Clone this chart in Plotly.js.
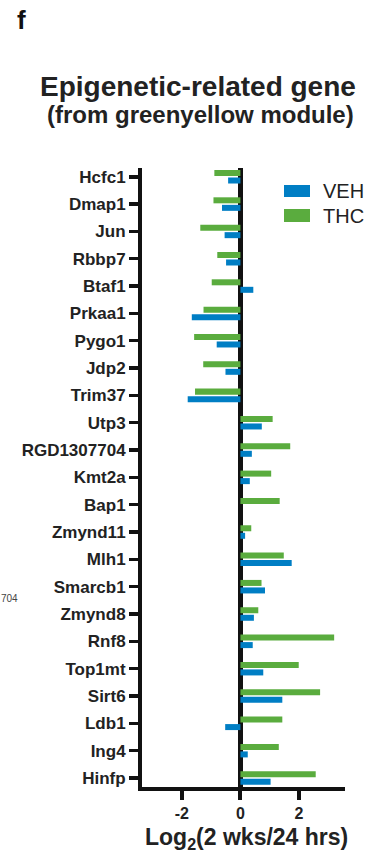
<!DOCTYPE html>
<html>
<head>
<meta charset="utf-8">
<script src="https://cdn.plot.ly/plotly-3.0.1.min.js"></script>
<style>html,body{margin:0;padding:0;background:#fff;}#chart{width:371px;height:853px;}</style>
</head>
<body>
<div id="chart"></div>
<script>
// ---- data ----
const genes = ["Hcfc1","Dmap1","Jun","Rbbp7","Btaf1","Prkaa1","Pygo1","Jdp2","Trim37","Utp3",
  "RGD1307704","Kmt2a","Bap1","Zmynd11","Mlh1","Smarcb1","Zmynd8","Rnf8","Top1mt","Sirt6",
  "Ldb1","Ing4","Hinfp"];
const thc = [-0.89,-0.92,-1.37,-0.79,-0.98,-1.26,-1.58,-1.27,-1.55,1.10,
  1.70,1.05,1.34,0.37,1.48,0.72,0.61,3.20,1.99,2.72,
  1.43,1.31,2.57];
const veh = [-0.42,-0.63,-0.54,-0.49,0.44,-1.66,-0.81,-0.51,-1.80,0.73,
  0.39,0.32,0,0.16,1.75,0.84,0.46,0.42,0.78,1.43,
  -0.52,0.25,1.03];
const xTicks = [-2, 0, 2];
const seriesNames = ["VEH", "THC"];
const xTitle = "Log<sub>2</sub>(2 wks/24 hrs)";

// ---- style ----
const BLUE = "rgb(0,126,196)";
const GREEN = "rgb(90,172,62)";
const FONT = "Liberation Sans, Arial, Helvetica, sans-serif";
const W = 371, H = 853;
const M = {l: 142, r: 26, t: 168, b: 66};
const PW = W - M.l - M.r, PH = H - M.t - M.b;
const px = x => (x - M.l) / PW;         // pixel x -> paper
const py = y => (H - M.b - y) / PH;     // pixel y -> paper

const traces = [
  {type: "bar", orientation: "h", name: seriesNames[1], y: genes, x: thc,
   marker: {color: GREEN, line: {width: 0}}, showlegend: false},
  {type: "bar", orientation: "h", name: seriesNames[0], y: genes, x: veh,
   marker: {color: BLUE, line: {width: 0}}, showlegend: false}
];

const layout = {
  width: W, height: H,
  margin: M,
  paper_bgcolor: "#fff", plot_bgcolor: "#fff",
  font: {family: FONT, color: "#222"},
  barmode: "group", bargap: 0.45, bargroupgap: 0.2,
  xaxis: {
    range: [-3.36, 3.57], tickvals: xTicks, ticktext: xTicks.map(String),
    showgrid: false, zeroline: true, zerolinecolor: "#111", zerolinewidth: 5,
    showline: true, linecolor: "#111", linewidth: 4,
    ticks: "outside", ticklen: 9, tickwidth: 4, tickcolor: "#111",
    tickfont: {family: FONT, size: 16, weight: 700, color: "#222"}
  },
  yaxis: {
    type: "category", range: [22.33, -0.32], autorange: false,
    showgrid: false, zeroline: false,
    showline: true, linecolor: "#111", linewidth: 4,
    ticks: "outside", ticklen: 9, tickwidth: 3.5, tickcolor: "#111",
    tickfont: {family: FONT, size: 17, weight: 700, color: "#222"}
  },
  shapes: [
    {type: "rect", xref: "paper", yref: "paper", x0: px(284), x1: px(310), y0: py(197), y1: py(185),
     fillcolor: BLUE, line: {width: 0}},
    {type: "rect", xref: "paper", yref: "paper", x0: px(284), x1: px(310), y0: py(222), y1: py(209),
     fillcolor: GREEN, line: {width: 0}}
  ],
  annotations: [
    {xref: "paper", yref: "paper", x: px(321), y: py(191), xanchor: "left", yanchor: "middle",
     text: seriesNames[0], showarrow: false, font: {family: FONT, size: 20, color: "#222"}},
    {xref: "paper", yref: "paper", x: px(321), y: py(216), xanchor: "left", yanchor: "middle",
     text: seriesNames[1], showarrow: false, font: {family: FONT, size: 20, color: "#222"}},
    {xref: "paper", yref: "paper", x: px(197.5), y: py(86), xanchor: "center", yanchor: "middle",
     text: "Epigenetic-related gene", showarrow: false, font: {family: FONT, size: 28, weight: 700, color: "#222"}},
    {xref: "paper", yref: "paper", x: px(200.5), y: py(114.5), xanchor: "center", yanchor: "middle",
     text: "(from greenyellow module)", showarrow: false, font: {family: FONT, size: 24, weight: 700, color: "#222"}},
    {xref: "paper", yref: "paper", x: px(15), y: py(20), xanchor: "left", yanchor: "middle",
     text: "f", showarrow: false, font: {family: FONT, size: 26, weight: 700, color: "#111"}},
    {xref: "paper", yref: "paper", x: px(-1), y: py(598), xanchor: "left", yanchor: "middle",
     text: "704", showarrow: false, font: {family: FONT, size: 10, color: "#444"}},
    {xref: "paper", yref: "paper", x: px(246.5), y: py(822), xanchor: "center", yanchor: "top",
     text: xTitle, showarrow: false, font: {family: FONT, size: 23, weight: 700, color: "#222"}}
  ]
};

Plotly.newPlot("chart", traces, layout, {staticPlot: true, displayModeBar: false});
</script>
</body>
</html>
